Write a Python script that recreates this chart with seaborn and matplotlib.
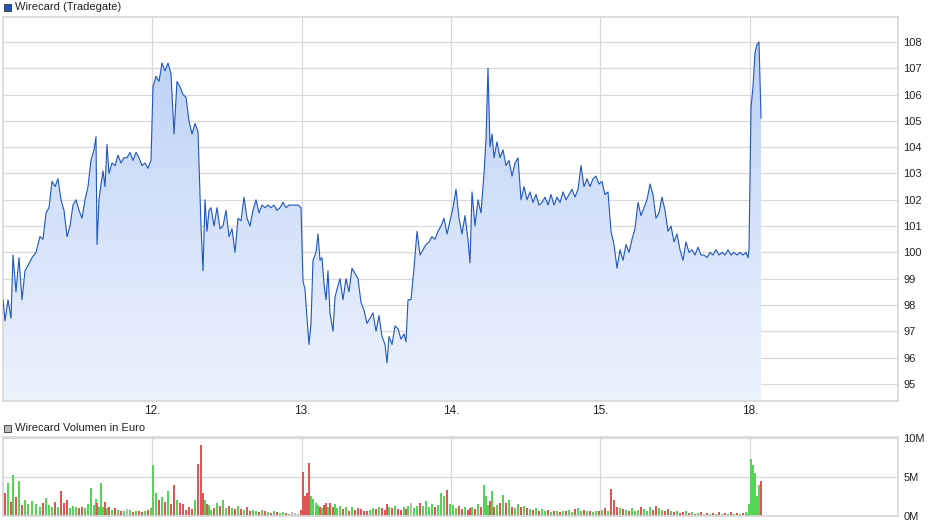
import numpy as np
import matplotlib
matplotlib.use("Agg")
import matplotlib.pyplot as plt
import seaborn as sns
from matplotlib.patches import Rectangle

sns.set_theme(style="white")
plt.rcParams['font.family'] = ['Liberation Sans', 'DejaVu Sans']

# time in chart ticks (one trading day = ~149.5 ticks)
t = [3,5,8,11,13,16,19,22,25,28,
     32,36,40,43,46,49,52,55,58,61,
     64,67,70,73,76,79,82,85,88,91,
     94,96,97,99,101,103,105,107,109,112,
     115,118,121,124,127,130,133,136,139,142,
     145,148,151,153,156,159,162,165,168,171,
     174,177,180,183,186,189,192,195,198,201,
     203,205,207,209,211,214,217,220,223,226,
     229,232,235,238,241,244,247,250,253,256,
     259,262,265,268,271,274,277,280,283,286,
     289,292,295,298,301,303,305,307,309,311,
     313,316,318,320,322,324,326,328,330,333,
     335,337,340,343,346,349,352,355,358,361,
     364,367,370,373,376,379,382,385,387,389,
     392,395,398,401,404,406,408,411,414,417,
     420,423,426,429,432,435,438,441,444,447,
     450,453,456,459,462,465,468,470,472,475,
     478,481,484,486,488,490,492,494,497,500,
     503,506,509,512,515,518,521,524,527,530,
     533,536,539,542,545,548,551,554,557,560,
     563,566,569,572,575,578,581,584,587,590,
     593,596,599,602,605,608,611,614,617,620,
     623,626,629,632,635,638,641,644,647,650,
     653,656,659,662,665,668,671,674,677,680,
     683,686,689,692,695,698,701,704,707,710,
     713,716,719,722,725,728,731,734,737,740,
     743,746,748,749,751,753,755,757,759,761]

price = [98.2,97.4,98.2,97.5,99.9,98.5,99.8,98.2,99.3,99.5,
         99.8,100.0,100.6,100.5,101.5,101.7,102.7,102.5,102.8,102.0,
         101.6,100.6,101.0,101.8,102.0,101.6,101.3,102.0,102.5,103.5,
         103.9,104.4,100.3,102.0,102.6,103.1,102.5,104.1,103.0,103.4,
         103.3,103.7,103.4,103.6,103.6,103.8,103.5,103.8,103.6,103.3,
         103.4,103.2,103.5,106.3,106.7,106.5,107.2,106.9,107.2,106.8,
         104.5,106.5,106.3,106.0,105.9,105.0,104.5,104.9,104.6,101.0,
         99.3,102.0,100.8,101.6,101.7,101.0,101.7,100.9,101.0,101.6,
         100.6,100.9,100.0,101.3,101.2,102.1,101.3,101.0,101.6,102.0,
         101.5,101.8,101.7,101.8,101.7,101.8,101.6,101.7,101.9,101.7,
         101.8,101.8,101.8,101.8,101.7,98.9,98.6,97.5,96.5,97.3,
         99.7,100.0,100.7,99.7,99.8,98.8,98.2,99.3,97.7,97.0,
         98.3,98.6,99.0,98.2,99.0,98.5,99.4,99.2,99.0,98.1,
         97.8,97.3,97.5,97.7,97.0,97.6,96.8,96.5,95.8,96.8,
         96.5,97.2,97.1,96.7,96.9,96.6,98.2,98.2,99.4,100.8,
         99.9,100.1,100.3,100.4,100.6,100.5,100.8,101.0,101.3,100.7,
         101.2,101.7,102.4,101.3,100.7,101.4,100.5,99.6,102.3,101.0,
         102.0,101.5,103.0,104.3,107.0,104.0,104.5,103.6,104.2,103.6,
         103.9,103.3,103.5,102.9,103.4,103.6,102.0,102.5,102.0,102.3,
         101.9,102.2,101.8,101.9,102.1,101.8,102.2,101.8,102.1,101.9,
         102.3,102.0,102.2,102.4,102.1,102.4,103.3,102.5,102.8,102.5,
         102.8,102.9,102.6,102.7,102.2,102.3,100.8,100.3,99.4,100.1,
         99.7,100.3,100.0,100.5,100.9,101.9,101.4,101.7,102.0,102.6,
         102.2,101.3,101.5,102.1,101.6,100.8,101.0,100.4,100.7,100.1,
         99.7,100.4,100.0,100.1,99.9,100.2,99.9,99.9,99.8,100.0,
         99.9,100.1,99.9,100.0,99.9,100.1,99.9,100.0,99.9,100.0,
         99.9,100.0,99.8,100.1,105.5,106.3,107.6,107.9,108.0,105.1]

volume_m = [8.2,3.0,4.2,1.8,5.2,2.4,4.5,1.4,2.0,1.5,
            1.9,1.5,1.2,1.6,2.3,1.4,1.2,1.8,1.1,3.2,
            1.6,2.0,1.0,1.3,1.2,1.0,1.2,1.0,1.5,3.6,
            1.4,2.2,1.6,1.2,4.2,1.2,1.8,1.0,1.2,0.8,
            1.0,0.8,0.7,0.6,0.9,0.8,0.5,0.7,0.6,0.5,
            0.6,0.8,1.0,6.5,3.0,2.0,2.4,1.8,3.2,1.5,
            4.0,2.0,1.6,1.5,0.8,1.2,0.9,2.1,6.6,9.1,
            2.9,2.0,1.5,1.4,0.8,1.0,1.7,1.3,2.0,1.0,
            1.3,1.0,0.9,1.3,0.9,0.8,1.1,0.7,0.8,0.6,
            0.5,0.8,0.6,0.5,0.4,0.7,0.5,0.4,0.5,0.4,
            0.3,0.5,0.4,0.3,0.8,5.6,2.5,3.0,6.8,2.5,
            2.2,1.6,1.4,1.2,1.0,1.4,1.6,1.1,1.7,1.2,
            1.5,1.0,1.3,0.9,1.1,0.7,1.2,0.8,1.0,0.9,
            0.7,0.6,0.8,1.0,0.9,1.2,1.0,0.8,1.5,1.2,
            1.0,1.3,0.9,0.8,1.1,0.9,1.3,1.7,1.0,1.3,
            1.6,1.3,1.9,1.2,1.5,1.1,1.4,3.0,2.6,3.3,
            1.5,1.4,1.0,1.3,0.9,1.1,0.8,1.0,1.2,0.9,
            1.5,1.2,3.9,2.5,1.4,1.9,3.2,1.1,1.4,1.7,
            2.7,1.7,2.1,1.2,1.0,1.5,1.1,1.3,1.0,0.9,
            0.8,1.0,0.7,0.9,0.6,0.8,0.5,0.7,0.6,0.5,
            0.7,0.6,0.8,0.5,0.9,1.0,0.7,0.8,0.6,0.7,
            0.5,0.6,0.7,0.8,1.0,0.6,3.5,2.0,1.2,1.0,
            0.9,0.8,0.7,1.0,0.6,0.8,1.1,0.9,0.7,1.2,
            0.8,1.3,1.0,0.8,0.6,0.9,0.7,0.5,0.6,0.4,
            0.5,0.6,0.4,0.5,0.3,0.4,0.5,0.3,0.4,0.3,
            0.4,0.3,0.5,0.3,0.4,0.3,0.5,0.3,0.4,0.3,
            0.4,0.5,0.3,1.5,7.3,6.5,5.5,2.5,4.0,4.5]

day_ticks = [152, 302, 451, 600, 750]
day_labels = ["12.", "13.", "14.", "15.", "18."]
price_ticks = [95, 96, 97, 98, 99, 100, 101, 102, 103, 104, 105, 106, 107, 108]
vol_ticks = [0, 5, 10]
vol_labels = ["0M", "5M", "10M"]

t = np.array(t, float)
price = np.array(price)
vol = np.array(volume_m)

fig = plt.figure(figsize=(9.4, 5.26), dpi=100)
ax = fig.add_axes([3/940, 1-401/526, 895/940, 384/526])
axv = fig.add_axes([3/940, 1-516/526, 895/940, 79/526])

xlim = (3, 898)
ylo, yhi = 94.35, 108.95
grid_c = "#d8d8d8"

for a in (ax, axv):
    a.set_xlim(*xlim)
    a.set_xticks(day_ticks)
    a.grid(True, color=grid_c, linewidth=0.9)
    a.set_axisbelow(True)
    for s in a.spines.values():
        s.set_color(grid_c)
    a.yaxis.tick_right()
    a.tick_params(length=0, labelsize=8, colors="#222222", pad=4)

grad = np.linspace(0, 1, 256).reshape(-1, 1)
cmap = matplotlib.colors.LinearSegmentedColormap.from_list("g", ["#edf3fd", "#b9cff5"])
im = ax.imshow(grad, extent=[xlim[0], xlim[1], yhi, ylo], aspect="auto", cmap=cmap, zorder=1)
poly = ax.fill_between(t, price, ylo, color="none")
clip = matplotlib.path.Path.make_compound_path(*poly.get_paths())
im.set_clip_path(clip, ax.transData)
sns.lineplot(x=t, y=price, ax=ax, color="#1f56c0", linewidth=0.8, zorder=3, estimator=None, sort=False)
ax.set_ylim(ylo, yhi)
ax.set_yticks(price_ticks)
ax.set_xticklabels(day_labels)
ax.tick_params(axis="x", labelsize=8.5, pad=3)
ax.set_xlabel(""); ax.set_ylabel("")

diff = np.diff(np.concatenate([[price[0]], price]))
colors = np.where(diff > 0, "#55d455", np.where(diff < 0, "#e05555", "#bbbbbb"))
axv.bar(t, vol, width=1.3, color=colors, linewidth=0, zorder=2)
axv.set_ylim(0, 10.1)
axv.set_yticks(vol_ticks)
axv.set_yticklabels(vol_labels)
axv.set_xticklabels([])

fig.patches.append(Rectangle((4/940, 1-11/526), 7/940, 7/526, transform=fig.transFigure,
                             facecolor="#1f56c0", edgecolor="#333333", linewidth=0.6))
fig.text(15/940, 1-7/526, "Wirecard (Tradegate)", fontsize=8, va="center", color="#222222")
fig.patches.append(Rectangle((4/940, 1-432/526), 7/940, 7/526, transform=fig.transFigure,
                             facecolor="#bbbbbb", edgecolor="#333333", linewidth=0.6))
fig.text(15/940, 1-428/526, "Wirecard Volumen in Euro", fontsize=8, va="center", color="#222222")

fig.savefig("out.png", dpi=100)
